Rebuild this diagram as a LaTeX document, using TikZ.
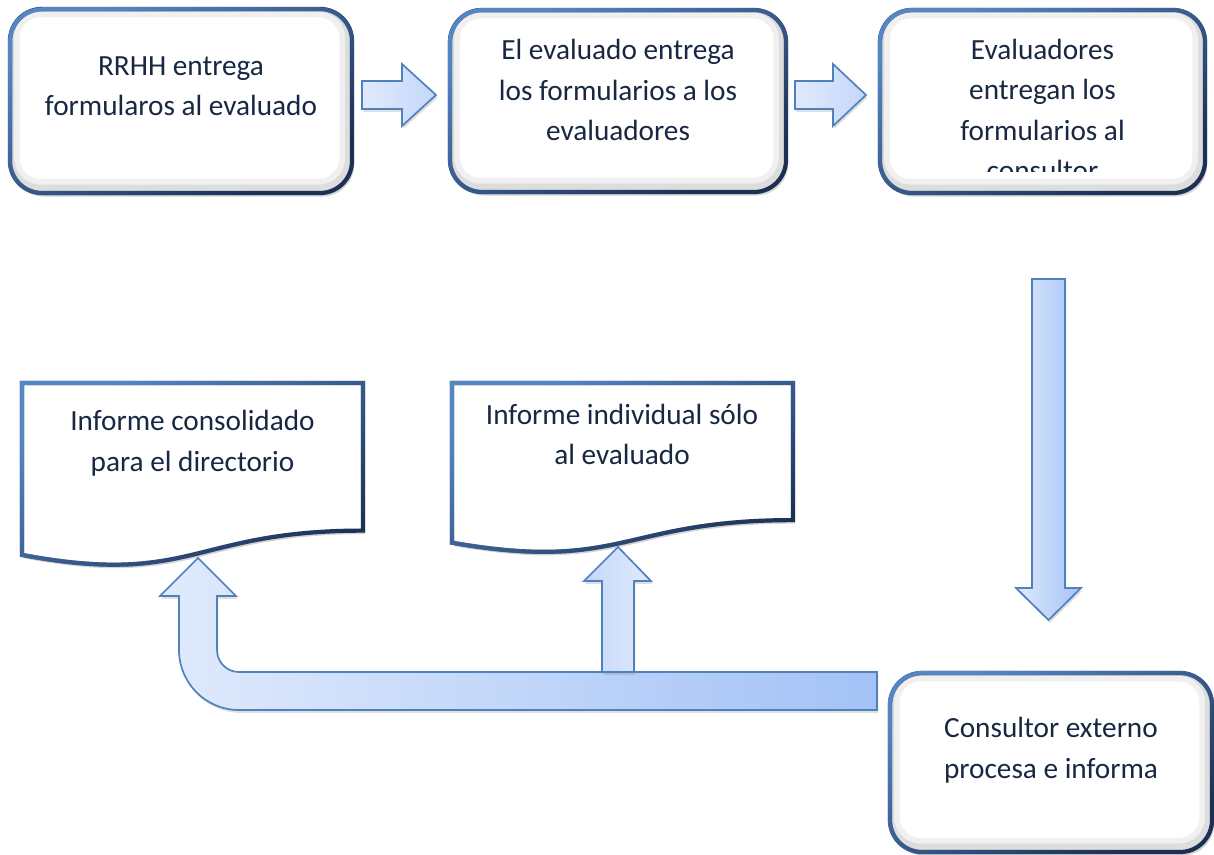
\documentclass[tikz,border=0pt]{standalone}
\usepackage{fontspec}
\setmainfont{Carlito}
\usetikzlibrary{shadows,fadings}
\definecolor{txtblue}{RGB}{24,40,66}
\definecolor{edgedark}{RGB}{28,48,84}
\definecolor{edgelight}{RGB}{84,134,196}
\definecolor{arrowline}{RGB}{79,129,189}
\definecolor{arrowpale}{RGB}{224,234,252}
\definecolor{arrowmid}{RGB}{196,215,249}
\definecolor{arrowdeep}{RGB}{163,194,246}
\tikzstyle{innerglow}=[path picture={
    \draw[black,opacity=0.06,line width=16pt,rounded corners=0.8cm]
      ([xshift=-1pt,yshift=2pt]path picture bounding box.north west) rectangle
      ([xshift=-1pt,yshift=2pt]path picture bounding box.south east);
    \draw[black,opacity=0.08,line width=8pt,rounded corners=0.8cm]
      ([xshift=-1pt,yshift=2pt]path picture bounding box.north west) rectangle
      ([xshift=-1pt,yshift=2pt]path picture bounding box.south east);}]
\tikzstyle{proc}=[rectangle,rounded corners=0.8cm,draw=edgedark,line width=3pt,fill=white,
  drop shadow={shadow xshift=1.5pt,shadow yshift=-2.5pt,opacity=0.35},innerglow,
  postaction={draw=edgelight,line width=3pt,path fading=south,fading angle=45}]
\tikzstyle{docu}=[draw=edgedark,line width=3pt,fill=white,
  drop shadow={shadow xshift=1.5pt,shadow yshift=-2.5pt,opacity=0.35},
  postaction={draw=edgelight,line width=3pt,path fading=south,fading angle=45}]
\tikzstyle{boxtext}=[text=txtblue,align=center,inner sep=0pt,
  font=\fontsize{20.8}{28.8}\selectfont]
\tikzstyle{blockarrow}=[draw=arrowline,line width=1.2pt,line join=miter,
  drop shadow={shadow xshift=1pt,shadow yshift=-2pt,opacity=0.25}]

\begin{document}
\begin{tikzpicture}[x=0.025cm,y=-0.025cm]
  \useasboundingbox (0,0) rectangle (1214,854);

  % top row
  \node[proc,minimum width=8.55cm,minimum height=4.6cm] (b1) at (181,101) {};
  \node[proc,minimum width=8.4cm,minimum height=4.55cm] (b2) at (618,101) {};
  \node[proc,minimum width=8.125cm,minimum height=4.575cm] (b3) at (1042.5,101.5) {};
  \node[boxtext] (t1) at (181,86) {RRHH entrega\\formularos al evaluado};
  \node[boxtext] (t2) at (618,90) {El evaluado entrega\\los formularios a los\\evaluadores};
  \begin{scope}
    \clip (880,10) rectangle (1205,171);
    \node[boxtext] (t3) at (1042.5,110) {Evaluadores\\entregan los\\formularios al\\consultor};
  \end{scope}

  \draw[blockarrow,left color=arrowpale,right color=arrowmid]
    (362,81) -- (402,81) -- (402,64) -- (436,95) -- (402,126) -- (402,109) -- (362,109) -- cycle;
  \draw[blockarrow,left color=arrowpale,right color=arrowmid]
    (795,81) -- (833,81) -- (833,64) -- (866,95) -- (833,126) -- (833,109) -- (795,109) -- cycle;

  % down to the consultant
  \draw[blockarrow,left color=arrowpale,right color=arrowdeep]
    (1032,279) -- (1065,279) -- (1065,588) -- (1081,588) -- (1048.5,620) -- (1016,588) -- (1032,588) -- cycle;

  \node[proc,minimum width=8.05cm,minimum height=4.475cm] (b4) at (1051,762.5) {};
  \node[boxtext] (t6) at (1051,750) {Consultor externo\\procesa e informa};

  % reports
  \draw[docu] (22,383) -- (363,383) -- (363,530.6)
    .. controls (192.5,530.6) and (192.5,586.8) .. (22,554.9) -- cycle;
  \draw[docu] (452,383) -- (793,383) -- (793,520.1)
    .. controls (622.5,520.1) and (622.5,572.4) .. (452,542.7) -- cycle;
  \node[boxtext] (t4) at (192.5,443) {Informe consolidado\\para el directorio};
  \node[boxtext] (t5) at (622,434.5) {Informe individual sólo\\al evaluado};

  \draw[blockarrow,left color=arrowpale,right color=arrowdeep]
    (877,710) -- (239,710) .. controls (205.9,710) and (179,683.1) .. (179,650)
    -- (179,596) -- (160,596) -- (198,558) -- (236,596) -- (217,596) -- (217,650)
    .. controls (217,662.2) and (226.8,672) .. (239,672) -- (877,672) -- cycle;
  \draw[blockarrow,left color=arrowmid,right color=arrowpale]
    (602,672) -- (602,581) -- (584,581) -- (618,547) -- (651,581) -- (634,581) -- (634,672) -- cycle;
\end{tikzpicture}
\end{document}
